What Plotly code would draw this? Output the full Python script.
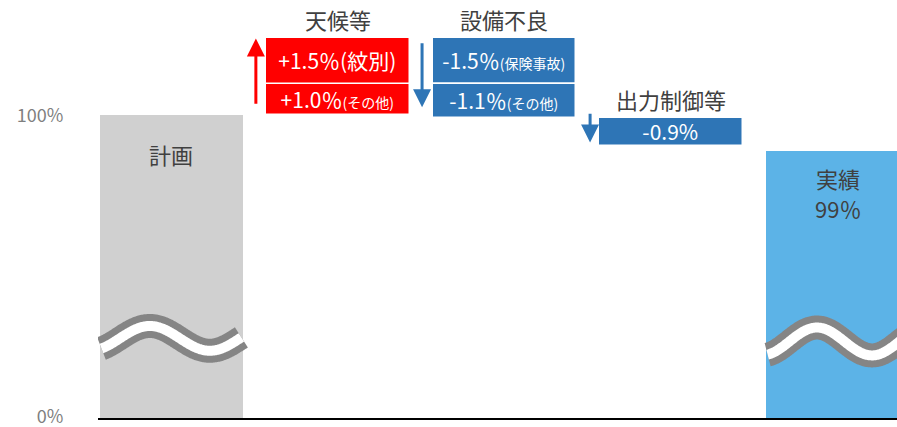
import numpy as np
import plotly.graph_objects as go

# ---- data ----
categories = ["計画", "天候等", "設備不良", "出力制御等", "実績"]
plan_value = 100.0
actual_value = 98.85          # bar top as drawn (label 99%)
actual_label_1 = "実績"
actual_label_2 = "99％"
weather_parts = [1.0, 1.5]    # その他, 紋別
weather_labels = ["+1.0％<span style='font-size:14px'>(その他)</span>", "+1.5％(紋別)"]
equip_parts = [-1.5, -1.1]    # 保険事故, その他
equip_labels = ["-1.5％<span style='font-size:14px'>(保険事故)</span>", "-1.1％<span style='font-size:14px'>(その他)</span>"]
curtail_parts = [-0.9]
curtail_labels = ["-0.9%"]
tick_vals_label = ["0%", "100%"]

FONT = "Noto Sans CJK JP, Noto Sans, sans-serif"
GRAY_BAR = "#d0d0d0"
RED = "#ff0000"
BLUE = "#2e75b6"
ACT = "#5cb3e7"
TXT = "#404040"

ymin, ymax = 90.23, 103.72
W = 0.86
xpos = {c: i for i, c in enumerate(categories)}

fig = go.Figure()

# plan & actual bars
fig.add_trace(go.Bar(x=[xpos["計画"]], y=[plan_value], width=W, marker=dict(color=GRAY_BAR, line=dict(width=0)),
                     showlegend=False, hoverinfo="skip"))
fig.add_trace(go.Bar(x=[xpos["実績"]], y=[actual_value], width=W, marker=dict(color=ACT, line=dict(width=0)),
                     showlegend=False, hoverinfo="skip"))
fig.add_annotation(x=xpos["計画"], y=plan_value, text="計画", showarrow=False, yanchor="top", yshift=-22,
                   borderpad=0, font=dict(size=22, color=TXT, family=FONT))
fig.add_annotation(x=xpos["実績"], y=actual_value, text=actual_label_1, showarrow=False, yanchor="top", yshift=-10,
                   borderpad=0, font=dict(size=22, color=TXT, family=FONT))
fig.add_annotation(x=xpos["実績"], y=actual_value, text=actual_label_2, showarrow=False, yanchor="top", yshift=-40,
                   borderpad=0, font=dict(size=22, color=TXT, family=FONT))

# floating boxes
def add_steps(cat, start, parts, labels, color):
    level = start
    for p, lab in zip(parts, labels):
        fig.add_trace(go.Bar(x=[xpos[cat]], y=[p], base=[level], width=W,
                             marker=dict(color=color, line=dict(color="white", width=1.5)),
                             text=[lab], textposition="inside", insidetextanchor="middle",
                             textfont=dict(color="white", size=21, family=FONT),
                             constraintext="none", textangle=0,
                             showlegend=False, hoverinfo="skip"))
        level += p
    return level

lvl = add_steps("天候等", plan_value, weather_parts, weather_labels, RED)
top_weather = lvl
lvl = add_steps("設備不良", lvl, equip_parts, equip_labels, BLUE)
after_equip = lvl
lvl = add_steps("出力制御等", lvl, curtail_parts, curtail_labels, BLUE)

# headers
for cat, y in [("天候等", top_weather), ("設備不良", top_weather), ("出力制御等", after_equip)]:
    fig.add_annotation(x=xpos[cat], y=y, text=cat, showarrow=False, yanchor="bottom", yshift=1,
                       font=dict(size=22, color=TXT, family=FONT))

# arrows
def arrow(x, y_from, y_to, color):
    fig.add_annotation(x=x, y=y_to, ax=x, ay=y_from, axref="x", ayref="y", xref="x", yref="y",
                       showarrow=True, arrowhead=2, arrowsize=1.2, arrowwidth=3, arrowcolor=color, text="")

arrow(0.507, plan_value + 0.32, top_weather - 0.02, RED)
arrow(1.505, top_weather - 0.13, after_equip + 0.36, BLUE)
arrow(2.514, after_equip + 0.2, lvl + 0.12, BLUE)

# axis-break wave decoration
def wave(xc, yc, amp, peak_px, period_px):
    xs = np.linspace(xc - W / 2 + 0.01, xc + W / 2 - 0.01, 200)
    px = (xs - (xc - W / 2)) * 166.5
    ys = yc + amp * np.cos(2 * np.pi * (px - peak_px) / period_px)
    fig.add_trace(go.Scatter(x=xs, y=ys, mode="lines", line=dict(color="#858585", width=24, simplify=False),
                             showlegend=False, hoverinfo="skip", cliponaxis=True))
    fig.add_trace(go.Scatter(x=xs, y=ys, mode="lines", line=dict(color="white", width=10, simplify=False),
                             showlegend=False, hoverinfo="skip", cliponaxis=True))

wave(0, 92.8, 0.4, 50, 120)
wave(4, 92.7, 0.45, 51, 110)

fig.update_layout(
    width=897, height=427,
    margin=dict(l=98, r=0, t=0, b=9),
    plot_bgcolor="white", paper_bgcolor="white",
    barmode="overlay", bargap=0,
    font=dict(family=FONT),
    xaxis=dict(range=[-0.441, 4.357], showticklabels=False, showgrid=False, zeroline=False,
               showline=True, linecolor="black", linewidth=2, ticks="", automargin=False),
    yaxis=dict(range=[ymin, ymax], tickvals=[ymin + 0.05, 100], ticktext=tick_vals_label,
               showgrid=False, zeroline=False, showline=False, automargin=False,
               ticks="outside", ticklen=30, tickcolor="rgba(0,0,0,0)", ticklabeloverflow="allow",
               tickfont=dict(size=18, color="#7f7f7f", family=FONT)),
)

fig.write_html("out.html", config={"displayModeBar": False},
               post_script="document.body.style.margin='0';")
